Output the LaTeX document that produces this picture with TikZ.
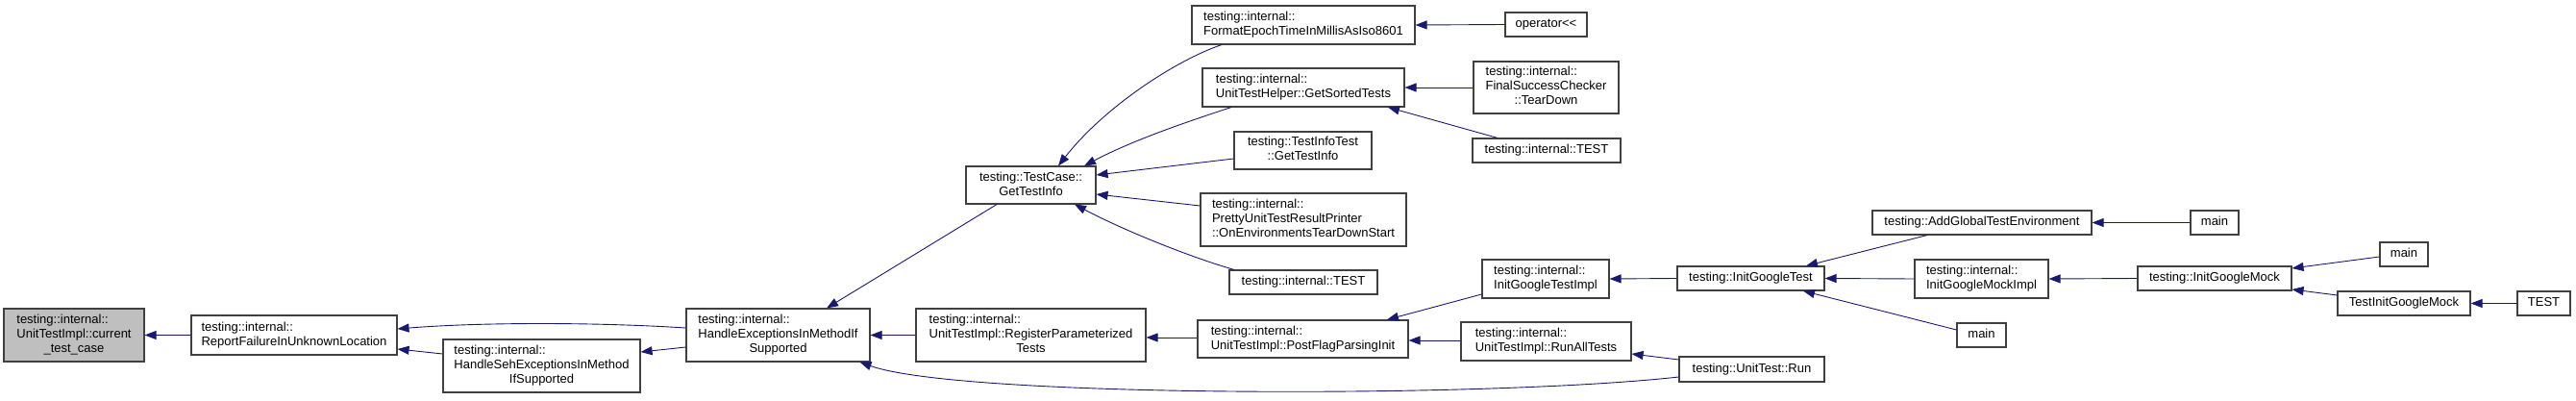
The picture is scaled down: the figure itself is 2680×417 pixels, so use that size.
\documentclass[tikz,border=0pt]{standalone}
\usepackage{fontspec}
\setmainfont{Liberation Sans}[Ligatures=NoCommon]
\usetikzlibrary{arrows.meta,calc}
\definecolor{dxedge}{HTML}{191970}
\definecolor{dxborder}{HTML}{404040}
\definecolor{dxgray}{HTML}{BFBFBF}
\newcommand\dxlines[1]{\begin{tabular}{@{}l@{}}#1\end{tabular}}
\newcommand\dxc[1]{\multicolumn{1}{@{}c@{}}{#1}}
\begin{document}
\begin{tikzpicture}[x=1pt,y=-1pt,
  dxbase/.style={draw=dxborder, line width=1.1pt, fill=white, inner sep=0pt, font=\fontsize{13}{15}\selectfont},
  dxbox/.style 2 args={dxbase, minimum width=#1, minimum height=#2},
  dxarrow/.style={draw=dxedge, line width=0.9pt, -{Triangle[length=12pt,width=9pt]}}
]
\useasboundingbox (0,0) rectangle (2680,417);
\node[dxbox={146}{55},fill=dxgray] (cur) at (77,348.5) {\dxlines{testing::internal::\\UnitTestImpl::current\\\dxc{\_test\_case}}};
\node[dxbox={214}{41}] (rep) at (306,348.5) {\dxlines{testing::internal::\\\dxc{ReportFailureInUnknownLocation}}};
\node[dxbox={205}{55}] (seh) at (563.5,380.5) {\dxlines{testing::internal::\\HandleSehExceptionsInMethod\\\dxc{IfSupported}}};
\node[dxbox={191}{55}] (hex) at (809.5,348.5) {\dxlines{testing::internal::\\HandleExceptionsInMethodIf\\\dxc{Supported}}};
\node[dxbox={239}{55}] (reg) at (1072.5,348.5) {\dxlines{testing::internal::\\UnitTestImpl::RegisterParameterized\\\dxc{Tests}}};
\node[dxbox={135}{39}] (gti) at (1072.5,192.5) {\dxlines{\dxc{testing::TestCase::}\\\dxc{GetTestInfo}}};
\node[dxbox={232}{40}] (fmt) at (1356,26) {\dxlines{testing::internal::\\\dxc{FormatEpochTimeInMillisAsIso8601}}};
\node[dxbox={210}{40}] (gst) at (1356,91) {\dxlines{testing::internal::\\\dxc{UnitTestHelper::GetSortedTests}}};
\node[dxbox={143}{39}] (tit) at (1355.5,156.5) {\dxlines{\dxc{testing::TestInfoTest}\\\dxc{::GetTestInfo}}};
\node[dxbox={214}{55}] (pretty) at (1356,228.5) {\dxlines{testing::internal::\\PrettyUnitTestResultPrinter\\\dxc{::OnEnvironmentsTearDownStart}}};
\node[dxbox={154}{25}] (itest) at (1356,293.5) {\dxlines{testing::internal::TEST}};
\node[dxbox={219}{39}] (pfp) at (1355.5,352.5) {\dxlines{testing::internal::\\\dxc{UnitTestImpl::PostFlagParsingInit}}};
\node[dxbox={85}{25}] (op) at (1608.5,25.5) {\dxlines{operator{<}{<}}};
\node[dxbox={151}{54}] (fsc) at (1608.5,91) {\dxlines{testing::internal::\\FinalSuccessChecker\\\dxc{::TearDown}}};
\node[dxbox={154}{25}] (itest2) at (1609,156.5) {\dxlines{testing::internal::TEST}};
\node[dxbox={132}{40}] (igti) at (1608,290) {\dxlines{testing::internal::\\\dxc{InitGoogleTestImpl}}};
\node[dxbox={177}{40}] (rat) at (1608.5,355) {\dxlines{testing::internal::\\\dxc{UnitTestImpl::RunAllTests}}};
\node[dxbox={153}{25}] (igt) at (1821.5,289.5) {\dxlines{testing::InitGoogleTest}};
\node[dxbox={151}{26}] (run) at (1822.5,384) {\dxlines{testing::UnitTest::Run}};
\node[dxbox={228}{25}] (age) at (2062,231.5) {\dxlines{testing::AddGlobalTestEnvironment}};
\node[dxbox={139}{40}] (igmi) at (2061.5,290) {\dxlines{testing::internal::\\\dxc{InitGoogleMockImpl}}};
\node[dxbox={51}{25}] (mainc) at (2061.5,348.5) {\dxlines{main}};
\node[dxbox={50}{25}] (maina) at (2304,231.5) {\dxlines{main}};
\node[dxbox={160}{25}] (igm) at (2304,289.5) {\dxlines{testing::InitGoogleMock}};
\node[dxbox={50}{25}] (mainb) at (2501,264.5) {\dxlines{main}};
\node[dxbox={138}{25}] (tigm) at (2501,315.5) {\dxlines{TestInitGoogleMock}};
\node[dxbox={55}{25}] (test) at (2646.5,315.5) {\dxlines{TEST}};

\draw[dxarrow] (rep.west) -- (cur.east);
\draw[dxarrow] ($(hex.west)+(0,-7.5)$) .. controls (620,335) and (500,335) .. ($(rep.east)+(0,-6.5)$);
\draw[dxarrow] ($(seh.west)+(0,-12.5)$) -- ($(rep.east)+(0,14.5)$);
\draw[dxarrow] ($(hex.west)+(0,12.5)$) -- ($(seh.east)+(0,-14.5)$);
\draw[dxarrow] ($(gti.south)+(-35.5,0)$) -- ($(hex.north)+(50.5,0)$);
\draw[dxarrow] (reg.west) -- (hex.east);
\draw[dxarrow] ($(run.west)+(0,8)$) .. controls (1550,414) and (1000,414) .. ($(hex.south)+(85,0)$);
\draw[dxarrow] ($(fmt.south)+(-85,0)$) .. controls (1225,62) and (1150,110) .. ($(gti.north)+(28.5,0)$);
\draw[dxarrow] ($(gst.south)+(-75,0)$) .. controls (1240,125) and (1180,145) .. ($(gti.north)+(55.5,0)$);
\draw[dxarrow] ($(tit.west)+(0,8.5)$) -- ($(gti.east)+(0,-10.5)$);
\draw[dxarrow] ($(pretty.west)+(0,-14.5)$) -- ($(gti.east)+(0,9.5)$);
\draw[dxarrow] ($(itest.north)+(-72,0)$) .. controls (1240,268) and (1170,240) .. ($(gti.south)+(45.5,0)$);
\draw[dxarrow] (op.west) -- (fmt.east);
\draw[dxarrow] (fsc.west) -- (gst.east);
\draw[dxarrow] ($(itest2.north)+(-51,0)$) -- ($(gst.south)+(88,0)$);
\draw[dxarrow] ($(pfp.west)+(0,-1.5)$) -- ($(reg.east)+(0,2.5)$);
\draw[dxarrow] ($(igti.west)+(0,16)$) -- ($(pfp.north)+(87.5,0)$);
\draw[dxarrow] ($(rat.west)+(0,-1)$) -- ($(pfp.east)+(0,1.5)$);
\draw[dxarrow] ($(run.west)+(0,-10)$) -- ($(rat.east)+(0,13)$);
\draw[dxarrow] (igt.west) -- (igti.east);
\draw[dxarrow] ($(age.south)+(-57,0)$) -- ($(igt.north)+(57.5,0)$);
\draw[dxarrow] (igmi.west) -- (igt.east);
\draw[dxarrow] ($(mainc.west)+(0,-5.5)$) -- ($(igt.south)+(54.5,0)$);
\draw[dxarrow] (maina.west) -- (age.east);
\draw[dxarrow] (igm.west) -- (igmi.east);
\draw[dxarrow] ($(mainb.west)+(0,2.5)$) -- ($(igm.east)+(0,-10.5)$);
\draw[dxarrow] ($(tigm.west)+(0,-8.5)$) -- ($(igm.east)+(0,11.5)$);
\draw[dxarrow] (test.west) -- (tigm.east);
\end{tikzpicture}
\end{document}
